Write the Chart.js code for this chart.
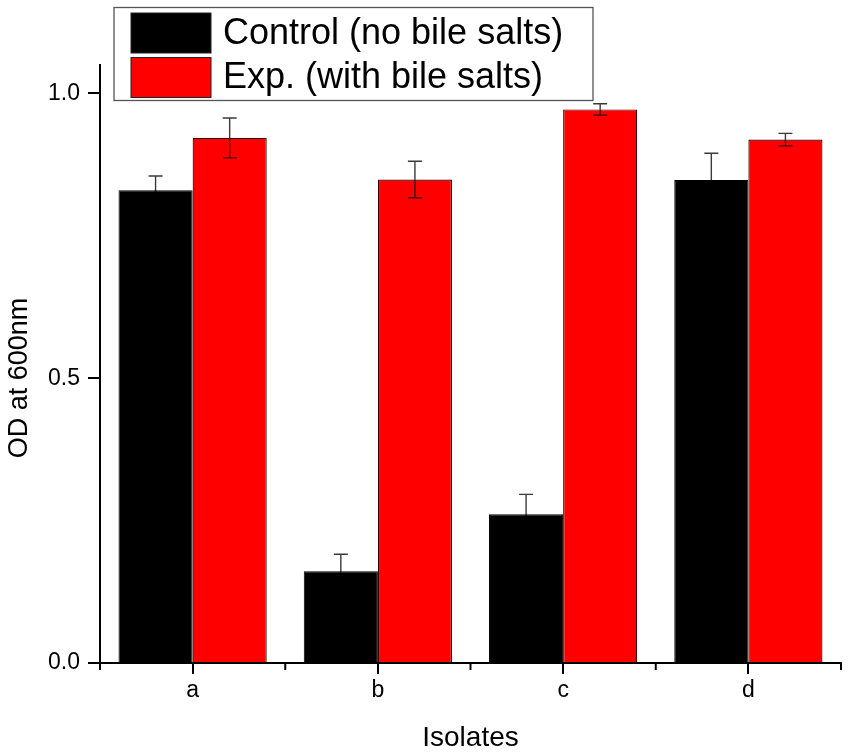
<!DOCTYPE html>
<html>
<head>
<meta charset="utf-8">
<script src="https://cdn.jsdelivr.net/npm/chart.js@4.4.1/dist/chart.umd.min.js"></script>
<style>
  html, body { margin: 0; padding: 0; background: #fff; }
  #wrap { width: 851px; height: 754px; position: relative; }
</style>
</head>
<body>
<div id="wrap"><canvas id="c" width="851" height="754"></canvas></div>
<script>
// ---- data ----
const categories = ['a', 'b', 'c', 'd'];
const seriesNames = ['Control (no bile salts)', 'Exp. (with bile salts)'];
const controlValues = [0.830, 0.161, 0.261, 0.848];
const controlErrors = [0.025, 0.030, 0.035, 0.047];
const expValues = [0.922, 0.849, 0.972, 0.919];
const expErrors = [0.035, 0.032, 0.010, 0.011];
const yTickValues = [0.0, 0.5, 1.0];
const xTitle = 'Isolates';
const yTitle = 'OD at 600nm';

const FONT = "'Liberation Sans', Arial, sans-serif";
const errorSets = [controlErrors, expErrors];

const errorBarPlugin = {
  id: 'errorBars',
  afterDatasetsDraw(chart) {
    const ctx = chart.ctx;
    const y = chart.scales.y;
    ctx.save();
    ctx.lineWidth = 1.4;
    chart.data.datasets.forEach((ds, di) => {
      const meta = chart.getDatasetMeta(di);
      meta.data.forEach((el, i) => {
        const v = ds.data[i], e = errorSets[di][i];
        const yt = y.getPixelForValue(v + e);
        const ym = y.getPixelForValue(v);
        const yb = y.getPixelForValue(v - e);
        const x = el.x, hw = 7;
        // upper whisker
        ctx.strokeStyle = '#3a3a3a';
        ctx.beginPath();
        ctx.moveTo(x, yt); ctx.lineTo(x, ym);
        ctx.moveTo(x - hw, yt); ctx.lineTo(x + hw, yt);
        ctx.stroke();
        // lower whisker (drawn over the bar; dark so it blends into black bars)
        ctx.strokeStyle = di === 0 ? '#000000' : '#3a1010';
        ctx.beginPath();
        ctx.moveTo(x, ym); ctx.lineTo(x, yb);
        ctx.moveTo(x - hw, yb); ctx.lineTo(x + hw, yb);
        ctx.stroke();
      });
    });
    ctx.restore();
  }
};

const decorPlugin = {
  id: 'decor',
  afterDraw(chart) {
    const ctx = chart.ctx;
    const xs = chart.scales.x, ca = chart.chartArea;
    ctx.save();
    ctx.strokeStyle = '#000';
    ctx.lineWidth = 2;
    const n = categories.length;
    const step = (xs.getPixelForValue(1) - xs.getPixelForValue(0));
    for (let i = 0; i <= n; i++) {
      const px = xs.getPixelForValue(0) - step / 2 + i * step;
      ctx.beginPath();
      ctx.moveTo(px, ca.bottom);
      ctx.lineTo(px, ca.bottom + 7);
      ctx.stroke();
    }
    ctx.fillStyle = '#000';
    ctx.textAlign = 'center';
    ctx.textBaseline = 'alphabetic';
    ctx.font = '28px ' + FONT;
    ctx.fillText(xTitle, (ca.left + ca.right) / 2, 746);
    ctx.save();
    ctx.translate(27, 378);
    ctx.rotate(-Math.PI / 2);
    ctx.font = '27px ' + FONT;
    ctx.fillText(yTitle, 0, 0);
    ctx.restore();
    const bx = 114, by = 7.5, bw = 479, bh = 93;
    ctx.fillStyle = '#fff';
    ctx.fillRect(bx, by, bw, bh);
    ctx.strokeStyle = '#555';
    ctx.lineWidth = 1.3;
    ctx.strokeRect(bx, by, bw, bh);
    chart.data.datasets.forEach((ds, i) => {
      const sy = 13 + i * 44.5;
      ctx.fillStyle = ds.backgroundColor;
      ctx.fillRect(131, sy, 80, 40);
      ctx.strokeStyle = '#222';
      ctx.lineWidth = 1;
      ctx.strokeRect(131, sy, 80, 40);
      ctx.fillStyle = '#000';
      ctx.textAlign = 'left';
      ctx.textBaseline = 'middle';
      ctx.font = '36px ' + FONT;
      ctx.fillText(ds.label, 223, sy + 21);
    });
    ctx.restore();
  }
};

new Chart(document.getElementById('c'), {
  type: 'bar',
  data: {
    labels: categories,
    datasets: [
      { label: seriesNames[0], data: controlValues, backgroundColor: '#000000', borderColor: '#000000', borderWidth: 1 },
      { label: seriesNames[1], data: expValues, backgroundColor: '#ff0000', borderColor: '#300000', borderWidth: 1.2 }
    ]
  },
  options: {
    responsive: false,
    animation: false,
    devicePixelRatio: 1,
    layout: { padding: { top: 65, right: 10, left: 0, bottom: 0 } },
    datasets: { bar: { categoryPercentage: 0.8, barPercentage: 1.0 } },
    plugins: { legend: { display: false }, tooltip: { enabled: false } },
    scales: {
      x: {
        offset: true,
        afterFit(scale) { scale.height = 91; },
        grid: { offset: false, drawOnChartArea: false, drawTicks: true, tickLength: 11, color: '#000', lineWidth: 2 },
        border: { display: true, color: '#000', width: 2 },
        ticks: { color: '#000', font: { family: FONT, size: 23 }, padding: 3, maxRotation: 0 }
      },
      y: {
        min: 0,
        max: 1.05,
        afterFit(scale) { scale.width = 100; },
        afterBuildTicks(scale) { scale.ticks = yTickValues.map(v => ({ value: v })); },
        grid: { drawOnChartArea: false, drawTicks: true, tickLength: 12, color: '#000', lineWidth: 2 },
        border: { display: true, color: '#000', width: 2 },
        ticks: { color: '#000', font: { family: FONT, size: 23 }, padding: 8, callback: v => Number(v).toFixed(1) }
      }
    }
  },
  plugins: [errorBarPlugin, decorPlugin]
});
</script>
</body>
</html>
